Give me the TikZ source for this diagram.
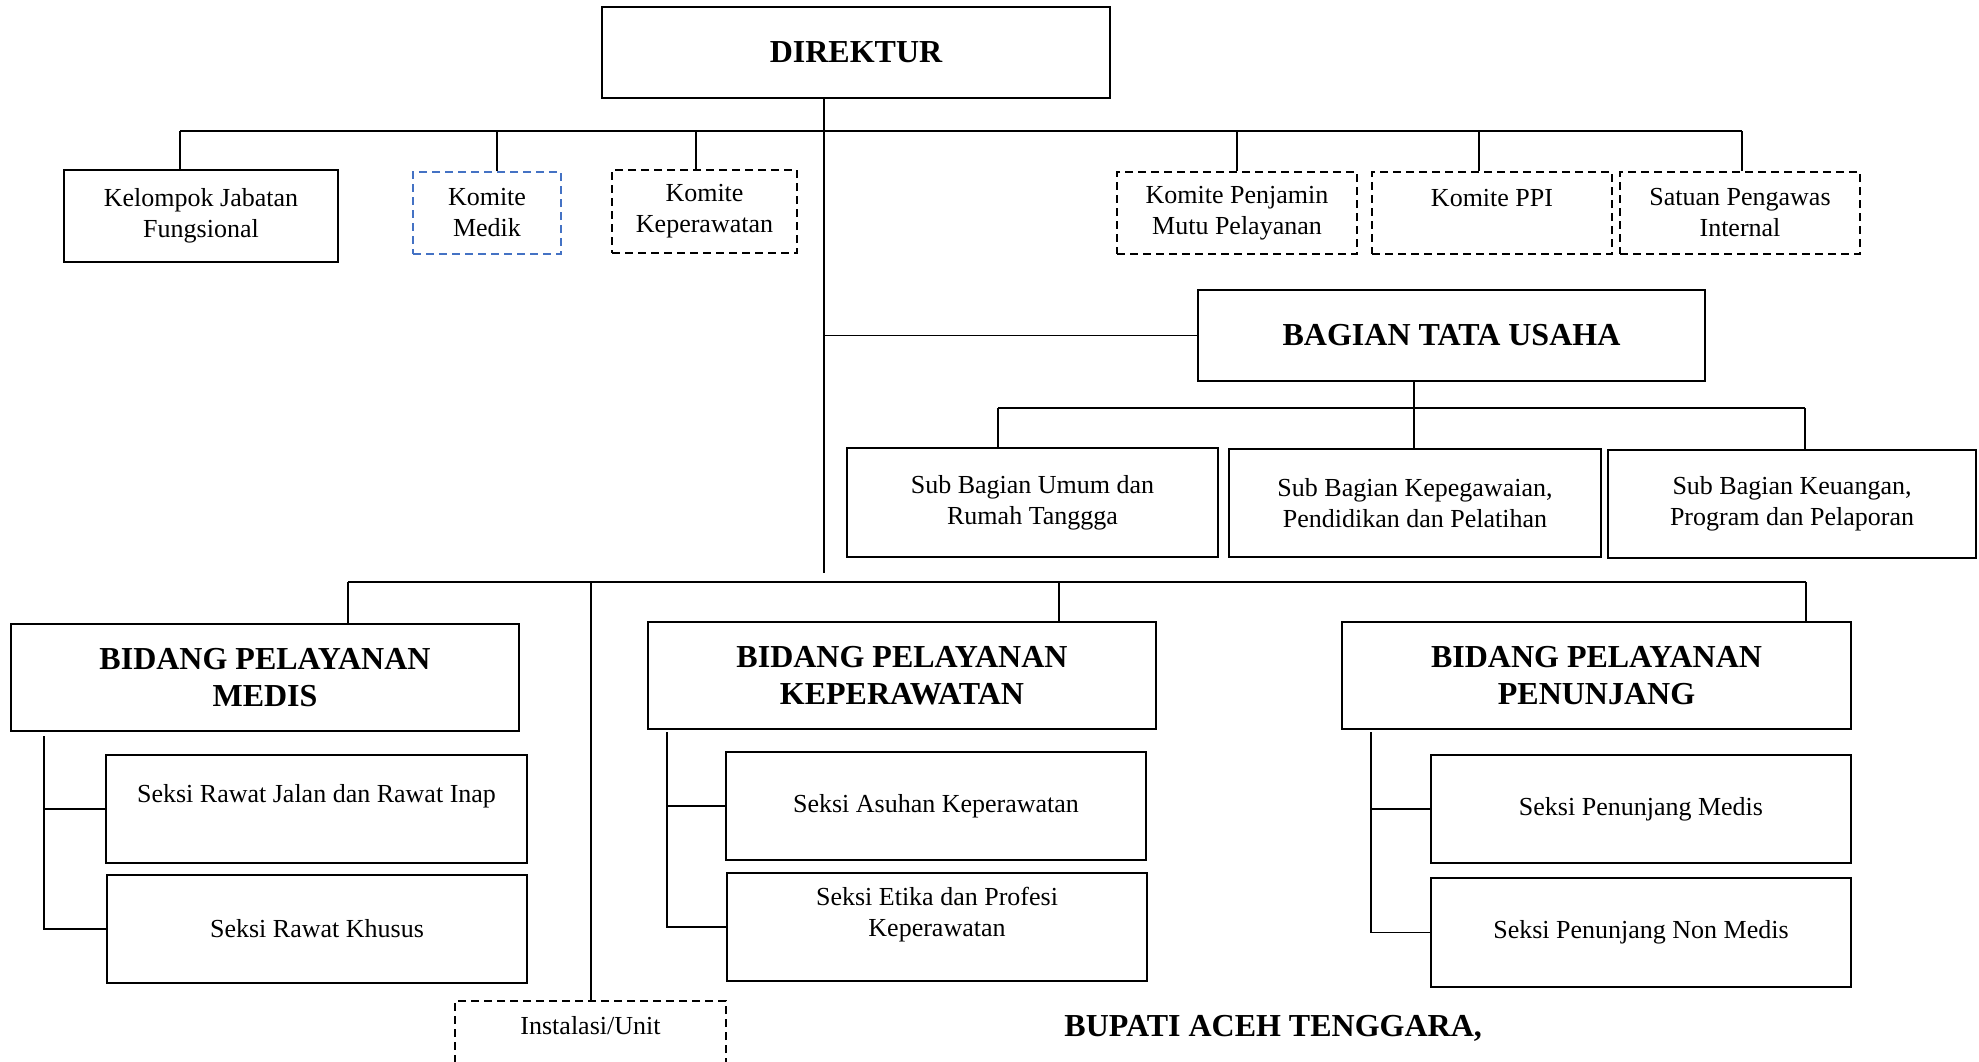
\documentclass[tikz,border=0pt]{standalone}
\usepackage{fontspec}
\setmainfont{Liberation Serif}
\definecolor{medblue}{RGB}{68,114,196}

\begin{document}
\begin{tikzpicture}[
    x=0.5pt, y=-0.5pt,
    font=\fontsize{13}{15.5}\selectfont,
    box/.style={draw, line width=1pt, align=center, inner sep=0pt},
    dbox/.style={box, dash pattern=on 4pt off 2.5pt},
    head/.style={box, font=\fontsize{16}{18.5}\selectfont\bfseries},
    link/.style={line width=0.9pt}
]
    \clip (0,0) rectangle (1979,1061);

    % --- Direktur and committees ---
    \node[head, minimum width=254pt, minimum height=45.5pt] (dir) at (856,52.5) {DIREKTUR};
    \node[box, minimum width=137pt, minimum height=46pt] (kjf) at (201,216) {Kelompok Jabatan\\Fungsional};
    \node[dbox, draw=medblue, minimum width=74pt, minimum height=41pt] (kmed) at (487,213) {Komite\\Medik};
    \node[dbox, minimum width=92.5pt, minimum height=41.5pt] (kkep) at (704.5,211.5) {Komite\\Keperawatan};
    \node[dbox, minimum width=120pt, minimum height=41pt] (kpmp) at (1237,213) {Komite Penjamin\\Mutu Pelayanan};
    \node[dbox, minimum width=120pt, minimum height=41pt] (kppi) at (1492,213) {Komite PPI\\\mbox{}};
    \node[dbox, minimum width=120pt, minimum height=41pt] (spi) at (1740,213) {Satuan Pengawas\\Internal};

    \coordinate (tbL) at (180,131);
    \coordinate (tbR) at (1742,131);
    \draw[link] (tbL) -- (tbR);
    \foreach \n/\dx in {kjf/-10.5, kmed/5, kkep/-4.25, kpmp/0, kppi/-6.5, spi/1} {
        \coordinate (d) at ([xshift=\dx pt]\n.north);
        \draw[link] (d) -- (d |- tbL);
    }

    % --- Main trunk ---
    \coordinate (trunk) at (824,573);
    \draw[link] (trunk |- dir.south) -- (trunk);

    % --- Bagian Tata Usaha ---
    \node[head, minimum width=253.5pt, minimum height=45.5pt] (btu) at (1451.5,335.5) {BAGIAN TATA USAHA};
    \draw[link] (btu.west) -- (btu.west -| trunk);

    \node[box, minimum width=185.5pt, minimum height=54.5pt] (sb1) at (1032.5,502.5) {Sub Bagian Umum dan\\Rumah Tanggga};
    \node[box, minimum width=186pt, minimum height=54pt] (sb2) at (1415,503) {Sub Bagian Kepegawaian,\\Pendidikan dan Pelatihan};
    \node[box, minimum width=184pt, minimum height=54pt] (sb3) at (1792,504) {Sub Bagian Keuangan,\\Program dan Pelaporan};

    \coordinate (sbL) at (998,408);
    \coordinate (sbR) at (1805,408);
    \coordinate (sbM) at (1414,408);
    \draw[link] (sbL) -- (sbR);
    \draw[link] (sbM |- btu.south) -- (sbM);
    \foreach \n/\dx in {sb1/-17.25, sb2/-0.5, sb3/6.5} {
        \coordinate (d) at ([xshift=\dx pt]\n.north);
        \draw[link] (d) -- (d |- sbL);
    }

    % --- Bidang ---
    \node[head, minimum width=254pt, minimum height=53.5pt] (bpm) at (265,677.5) {BIDANG PELAYANAN\\MEDIS};
    \node[head, minimum width=254pt, minimum height=53.5pt] (bpk) at (902,675.5) {BIDANG PELAYANAN\\KEPERAWATAN};
    \node[head, minimum width=254.5pt, minimum height=53.5pt] (bpp) at (1596.5,675.5) {BIDANG PELAYANAN\\PENUNJANG};
    \node[dbox, anchor=north, minimum width=135.5pt, minimum height=40pt] (inst) at (590.5,1000) {Instalasi/Unit\\\mbox{}};

    \coordinate (bbL) at (348,582);
    \coordinate (bbR) at (1806,582);
    \draw[link] (bbL) -- (bbR);
    \foreach \n/\dx in {bpm/41.5, bpk/78.5, bpp/104.75, inst/0.25} {
        \coordinate (d) at ([xshift=\dx pt]\n.north);
        \draw[link] (d) -- (d |- bbL);
    }

    % --- Seksi ---
    \node[box, minimum width=210.5pt, minimum height=54pt] (srj) at (316.5,809) {Seksi Rawat Jalan dan Rawat Inap\\\mbox{}};
    \node[box, minimum width=210pt, minimum height=54pt] (srk) at (317,929) {Seksi Rawat Khusus};
    \node[box, minimum width=210pt, minimum height=54pt] (sak) at (936,806) {Seksi Asuhan Keperawatan};
    \node[box, minimum width=210pt, minimum height=54pt] (sep) at (937,927) {Seksi Etika dan Profesi\\Keperawatan\\\mbox{}};
    \node[box, minimum width=210pt, minimum height=54pt] (spm) at (1641,809) {Seksi Penunjang Medis};
    \node[box, minimum width=210pt, minimum height=54.5pt] (spn) at (1641,932.5) {Seksi Penunjang Non Medis};

    \coordinate (r1) at (44,736);
    \coordinate (r2) at (667,732);
    \coordinate (r3) at (1371,732);
    \foreach \r/\a/\b in {r1/srj/srk, r2/sak/sep, r3/spm/spn} {
        \draw[link] (\r) |- (\b.west);
        \draw[link] (\r |- \a.west) -- (\a.west);
    }

    % --- Signature ---
    \node[anchor=west, inner sep=0pt, font=\fontsize{16}{18.5}\selectfont\bfseries] (bupati) at (1064,1028) {BUPATI ACEH TENGGARA,};

\end{tikzpicture}
\end{document}
